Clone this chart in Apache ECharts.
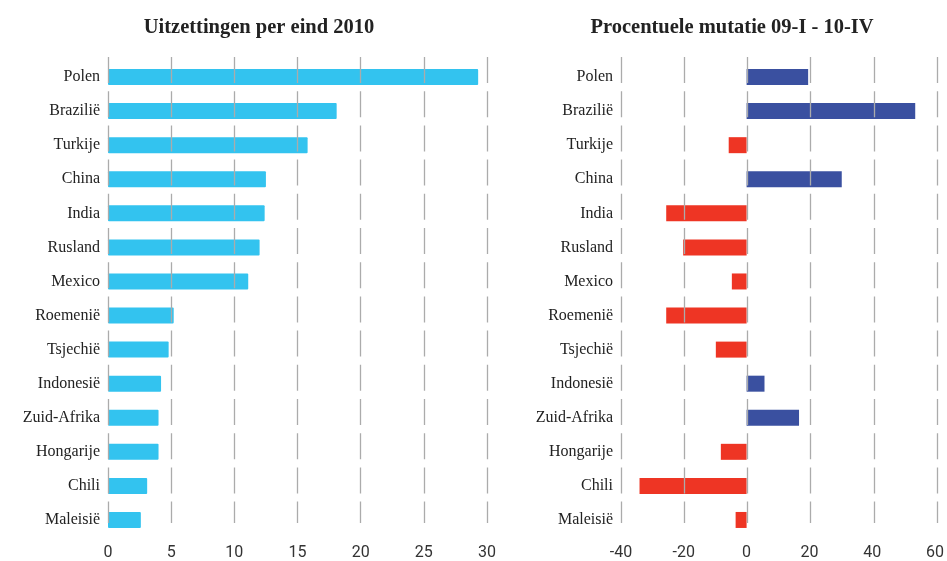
<!DOCTYPE html>
<html>
<head>
<meta charset="utf-8">
<script src="https://cdn.jsdelivr.net/npm/echarts@6/dist/echarts.min.js"></script>
<style>
  html, body { margin: 0; padding: 0; background: #fff; }
  #chart { width: 947px; height: 561px; }
</style>
</head>
<body>
<div id="chart"></div>
<script>
const countries = ['Polen', 'Brazilië', 'Turkije', 'China', 'India', 'Rusland', 'Mexico',
  'Roemenië', 'Tsjechië', 'Indonesië', 'Zuid-Afrika', 'Hongarije', 'Chili', 'Maleisië'];

// uitzettingen per eind 2010
const stock2010 = [29.3, 18.1, 15.8, 12.5, 12.4, 12.0, 11.1, 5.2, 4.8, 4.2, 4.0, 4.0, 3.1, 2.6];

// procentuele mutatie 09-I - 10-IV
const change = [19.6, 53.7, -5.7, 30.3, -25.6, -20.2, -4.7, -25.6, -9.8, 5.7, 16.7, -8.2, -34.1, -3.5];

const leftTicks = { min: 0, max: 30, interval: 5 };
const rightTicks = { min: -40, max: 60, interval: 20 };

const serif = '"Liberation Serif", "DejaVu Serif", serif';
const sans = 'Roboto, "Noto Sans", sans-serif';

const chart = echarts.init(document.getElementById('chart'));

// grids 0/2 hold the bars, grids 1/3 only draw the broken vertical gridlines on top
const gridLine = {
  show: true,
  lineStyle: { color: '#ababab', width: 1.3, type: [26, 8.2] }
};

chart.setOption({
  animation: false,
  title: [
    { text: 'Uitzettingen per eind 2010', left: 254, top: 12, textAlign: 'center',
      textStyle: { fontFamily: serif, fontSize: 20.5, fontWeight: 'bold', color: '#222' } },
    { text: 'Procentuele mutatie 09-I - 10-IV', left: 727, top: 12, textAlign: 'center',
      textStyle: { fontFamily: serif, fontSize: 20.5, fontWeight: 'bold', color: '#222' } }
  ],
  grid: [
    { left: 108, right: 460, top: 60, bottom: 22 },
    { left: 108, right: 460, top: 57, bottom: 38 },
    { left: 621, right: 10, top: 60, bottom: 22 },
    { left: 621, right: 10, top: 57, bottom: 38 }
  ],
  xAxis: [
    { gridIndex: 0, type: 'value', ...leftTicks,
      axisLine: { show: false }, axisTick: { show: false }, splitLine: { show: false },
      axisLabel: { margin: 8, fontFamily: sans, fontSize: 16, color: '#333' } },
    { gridIndex: 1, type: 'value', ...leftTicks, z: 10,
      axisLine: { show: false }, axisTick: { show: false }, axisLabel: { show: false },
      splitLine: gridLine },
    { gridIndex: 2, type: 'value', ...rightTicks,
      axisLine: { show: false }, axisTick: { show: false }, splitLine: { show: false },
      axisLabel: { margin: 8, fontFamily: sans, fontSize: 16, color: '#333' } },
    { gridIndex: 3, type: 'value', ...rightTicks, z: 10,
      axisLine: { show: false }, axisTick: { show: false }, axisLabel: { show: false },
      splitLine: gridLine }
  ],
  yAxis: [
    { gridIndex: 0, type: 'category', data: countries, inverse: true,
      axisLine: { show: false }, axisTick: { show: false },
      axisLabel: { margin: 8, fontFamily: serif, fontSize: 16, color: '#222' } },
    { gridIndex: 1, type: 'value', show: false },
    { gridIndex: 2, type: 'category', data: countries, inverse: true,
      axisLine: { show: false }, axisTick: { show: false },
      axisLabel: { margin: 8, fontFamily: serif, fontSize: 16, color: '#222' } },
    { gridIndex: 3, type: 'value', show: false }
  ],
  series: [
    { type: 'bar', xAxisIndex: 0, yAxisIndex: 0, data: stock2010, barWidth: 16,
      itemStyle: { color: '#33c3ef', borderRadius: 1 } },
    { type: 'bar', xAxisIndex: 2, yAxisIndex: 2, barWidth: 16,
      data: change.map(v => ({
        value: v,
        itemStyle: { color: v >= 0 ? '#3a50a0' : '#ee3524' }
      })) }
  ]
});
</script>
</body>
</html>
